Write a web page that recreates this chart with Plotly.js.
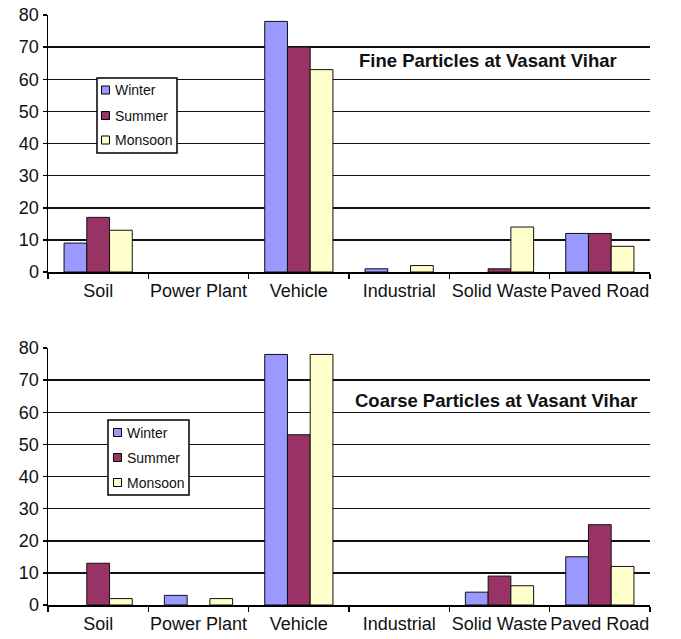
<!DOCTYPE html>
<html>
<head>
<meta charset="utf-8">
<script src="https://cdn.plot.ly/plotly-3.0.1.min.js"></script>
<style>html,body{margin:0;padding:0;background:#fff;}#chart{width:681px;height:639px;}</style>
</head>
<body>
<div id="chart"></div>
<script>
const categories = ["Soil", "Power Plant", "Vehicle", "Industrial", "Solid Waste", "Paved Road"];
const seasons = ["Winter", "Summer", "Monsoon"];
const seasonColors = ["#9999FF", "#993366", "#FFFFCC"];

// Fine particles (top chart)
const fineWinter  = [9, 0, 78, 1, 0, 12];
const fineSummer  = [17, 0, 70, 0, 1, 12];
const fineMonsoon = [13, 0, 63, 2, 14, 8];

// Coarse particles (bottom chart)
const coarseWinter  = [0, 3, 78, 0, 4, 15];
const coarseSummer  = [13, 0, 53, 0, 9, 25];
const coarseMonsoon = [2, 2, 78, 0, 6, 12];

const fineTitle = "Fine Particles at Vasant Vihar";
const coarseTitle = "Coarse Particles at Vasant Vihar";
const yTicks = [0, 10, 20, 30, 40, 50, 60, 70, 80];

const W = 681, H = 639;
const px = v => v / W;
const py = v => 1 - v / H;

const FONT = "Liberation Sans, Arial, Helvetica, sans-serif";

function makeTraces(series, xa, ya) {
  return series.map((vals, i) => ({
    type: "bar",
    x: categories,
    y: vals,
    name: seasons[i],
    xaxis: xa,
    yaxis: ya,
    showlegend: false,
    marker: {color: seasonColors[i], line: {color: "#111", width: vals.map(v => v === 0 ? 0 : 1)}},
    hoverinfo: "skip"
  }));
}

const traces = [
  ...makeTraces([fineWinter, fineSummer, fineMonsoon], "x", "y"),
  ...makeTraces([coarseWinter, coarseSummer, coarseMonsoon], "x2", "y2")
];

const xaxisBase = {
  type: "category",
  showgrid: false,
  showline: true,
  linecolor: "#000",
  linewidth: 1.5,
  ticks: "outside",
  tickson: "boundaries",
  ticklen: 5,
  tickwidth: 1.5,
  tickcolor: "#000",
  tickangle: 0,
  ticklabelstandoff: 2,
  tickfont: {family: FONT, size: 18, color: "#111"},
  fixedrange: true
};
const yaxisBase = {
  range: [0, 80],
  tickvals: yTicks,
  showgrid: true,
  gridcolor: "#111",
  gridwidth: 1.5,
  showline: true,
  linecolor: "#000",
  linewidth: 1.5,
  ticks: "outside",
  ticklen: 4,
  tickwidth: 1.5,
  tickcolor: "#000",
  tickfont: {family: FONT, size: 18, color: "#111"},
  zeroline: false,
  fixedrange: true
};

// Legend boxes drawn with shapes + annotations (paper pixels)
const shapes = [];
const annotations = [
  {text: "<b>" + fineTitle + "</b>", xref: "paper", yref: "paper", x: px(487.5), y: py(60),
   xanchor: "center", yanchor: "middle",
   showarrow: false, font: {family: FONT, size: 18.5, color: "#111"}},
  {text: "<b>" + coarseTitle + "</b>", xref: "paper", yref: "paper", x: px(496), y: py(401),
   xanchor: "center", yanchor: "middle",
   showarrow: false, font: {family: FONT, size: 18.5, color: "#111"}}
];

function addLegend(box, symX, textX, rowsY) {
  shapes.push({type: "rect", xref: "paper", yref: "paper", layer: "above",
    x0: px(box[0]), x1: px(box[1]), y0: py(box[3]), y1: py(box[2]),
    fillcolor: "#fff", line: {color: "#000", width: 1.5}});
  seasons.forEach((s, i) => {
    const cy = rowsY[i];
    shapes.push({type: "rect", xref: "paper", yref: "paper", layer: "above",
      x0: px(symX), x1: px(symX + 8), y0: py(cy + 4), y1: py(cy - 4),
      fillcolor: seasonColors[i], line: {color: "#000", width: 1}});
    annotations.push({text: s, xref: "paper", yref: "paper", x: px(textX), y: py(cy),
      xanchor: "left", yanchor: "middle", showarrow: false,
      font: {family: FONT, size: 14, color: "#111"}});
  });
}
addLegend([97, 177, 78, 153], 101.5, 113, [90, 115.5, 140]);
addLegend([108, 189, 420, 495], 113.5, 125, [432.5, 457.5, 482.5]);

const layout = {
  width: W,
  height: H,
  margin: {l: 0, r: 0, t: 0, b: 0},
  paper_bgcolor: "#fff",
  plot_bgcolor: "#fff",
  barmode: "group",
  bargap: 0.32,
  bargroupgap: 0,
  xaxis: Object.assign({}, xaxisBase, {domain: [px(48), px(650)], anchor: "y"}),
  yaxis: Object.assign({}, yaxisBase, {domain: [py(272), py(15)], anchor: "x"}),
  xaxis2: Object.assign({}, xaxisBase, {domain: [px(48), px(650)], anchor: "y2"}),
  yaxis2: Object.assign({}, yaxisBase, {domain: [py(605), py(348)], anchor: "x2"}),
  shapes: shapes,
  annotations: annotations,
  showlegend: false
};

Plotly.newPlot("chart", traces, layout, {displayModeBar: false, staticPlot: true});
</script>
</body>
</html>
